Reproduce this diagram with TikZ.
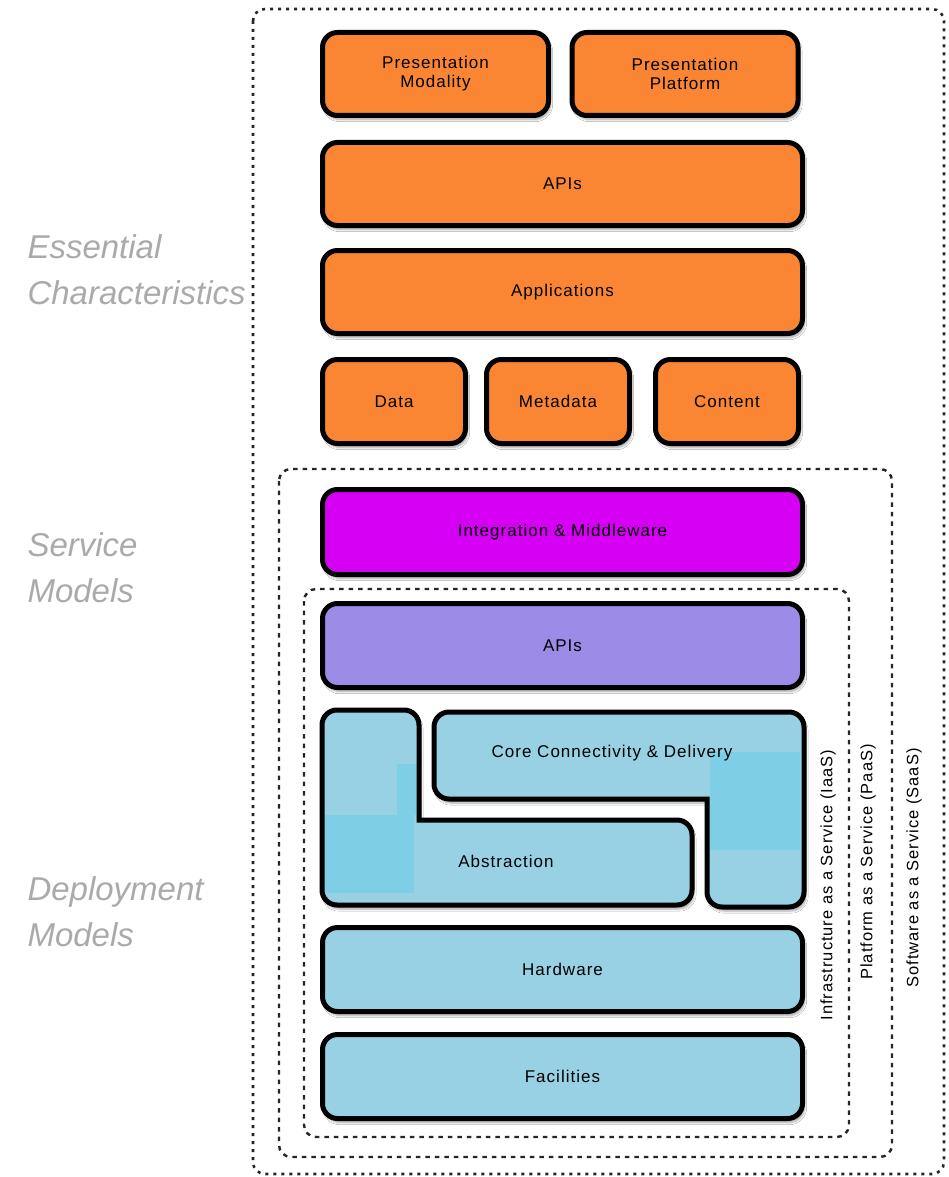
\documentclass[tikz,border=0pt]{standalone}
\usepackage{fontspec}
\setmainfont{Liberation Sans}
\usetikzlibrary{shadows.blur}
\definecolor{layerorange}{RGB}{250,134,52}
\definecolor{layermagenta}{RGB}{214,0,244}
\definecolor{layerpurple}{RGB}{157,139,232}
\definecolor{layerblue}{RGB}{152,208,228}
\definecolor{layercyan}{RGB}{126,207,230}
\definecolor{sidegray}{RGB}{170,170,170}
\newcommand{\boxfont}{\fontsize{17}{19}\selectfont\addfontfeature{LetterSpace=6}}
\tikzset{
  x=1pt, y=-1pt,
  layer/.style={draw=black, line width=5pt, rounded corners=15pt,
    inner sep=0pt, align=center, font=\boxfont,
    blur shadow={shadow xshift=2pt, shadow yshift=-4pt, shadow blur steps=6, shadow opacity=35}},
  orangebox/.style={layer, fill=layerorange},
  magentabox/.style={layer, fill=layermagenta},
  purplebox/.style={layer, fill=layerpurple},
  bluebox/.style={layer, fill=layerblue},
  pieceborder/.style={draw=black, line width=5pt},
  piecetext/.style={font=\boxfont},
  outerframe/.style={draw=black!85, line width=2.6pt, dash pattern=on 3pt off 5pt, rounded corners=12pt},
  innerframe/.style={draw=black!85, line width=2.4pt, dash pattern=on 4.5pt off 5pt, rounded corners=12pt},
  sidelabel/.style={text=sidegray, font=\fontsize{33}{46}\selectfont\itshape, align=left, anchor=west},
  serviceword/.style={rotate=90, font=\fontsize{16.5}{19}\selectfont\addfontfeature{LetterSpace=6}}
}
% outlines of the two interlocking infrastructure pieces
\newcommand{\abstractionpath}{(322,760) [rounded corners=15pt] -- (322,710) -- (419,710)
  [sharp corners] -- (419,820) [rounded corners=15pt] -- (692,820) -- (692,905)
  -- (322,905) -- cycle}
\newcommand{\corepath}{(434,760) [rounded corners=15pt] -- (434,712) -- (804,712) -- (804,907)
  -- (707,907) [sharp corners] -- (707,799) [rounded corners=15pt] -- (434,799) -- cycle}
\begin{document}
\begin{tikzpicture}
\useasboundingbox (0,0) rectangle (949,1177);
\fill[white] (0,0) rectangle (949,1177);

% nested service-model frames
\draw[outerframe] (253,9) rectangle (944,1174);
\draw[innerframe] (279,469) rectangle (892,1157);
\draw[innerframe] (304,589) rectangle (849,1137);

% side headings
\node[sidelabel] (ess) at (24,270) {Essential\\Characteristics};
\node[sidelabel] (svc) at (24,568) {Service\\Models};
\node[sidelabel] (dep) at (24,912) {Deployment\\Models};

% software layers
\node[orangebox, minimum width=226, minimum height=83] (pmod) at (435.5,74) {Presentation\\Modality};
\node[orangebox, minimum width=226, minimum height=83] (pplat) at (685,74) {Presentation\\Platform};
\node[orangebox, minimum width=480, minimum height=83] (apis) at (562.5,184) {APIs};
\node[orangebox, minimum width=480, minimum height=83] (apps) at (562.5,292) {Applications};
\node[orangebox, minimum width=143, minimum height=84] (data) at (394,401.5) {Data};
\node[orangebox, minimum width=143, minimum height=84] (meta) at (558,401.5) {Metadata};
\node[orangebox, minimum width=143, minimum height=84] (cont) at (727,401.5) {Content};

% platform layers
\node[magentabox, minimum width=480, minimum height=85] (integ) at (562.5,532) {Integration \& Middleware};
\node[purplebox, minimum width=480, minimum height=84] (iapis) at (562.5,645.5) {APIs};

% interlocking infrastructure pieces: fill, tint patches, then outline
\path[bluebox, draw=none] \abstractionpath;
\fill[layercyan] (324,815) rectangle (414,893);
\fill[layercyan] (397,764) rectangle (417,815);
\draw[pieceborder] \abstractionpath;
\node[piecetext] (abs) at (506,861) {Abstraction};

\path[bluebox, draw=none] \corepath;
\fill[layercyan] (710,752) rectangle (800,850);
\draw[pieceborder] \corepath;
\node[piecetext] (core) at (612,753) {Core Connectivity \& Delivery};

\node[bluebox, minimum width=480, minimum height=84] (hw) at (562.5,969.5) {Hardware};
\node[bluebox, minimum width=480, minimum height=84] (fac) at (562.5,1076.5) {Facilities};

% service model names along the frames
\node[serviceword] (iaas) at (828,885) {Infrastructure as a Service (IaaS)};
\node[serviceword] (paas) at (868,862) {Platform as a Service (PaaS)};
\node[serviceword] (saas) at (914,868) {Software as a Service (SaaS)};
\end{tikzpicture}
\end{document}
